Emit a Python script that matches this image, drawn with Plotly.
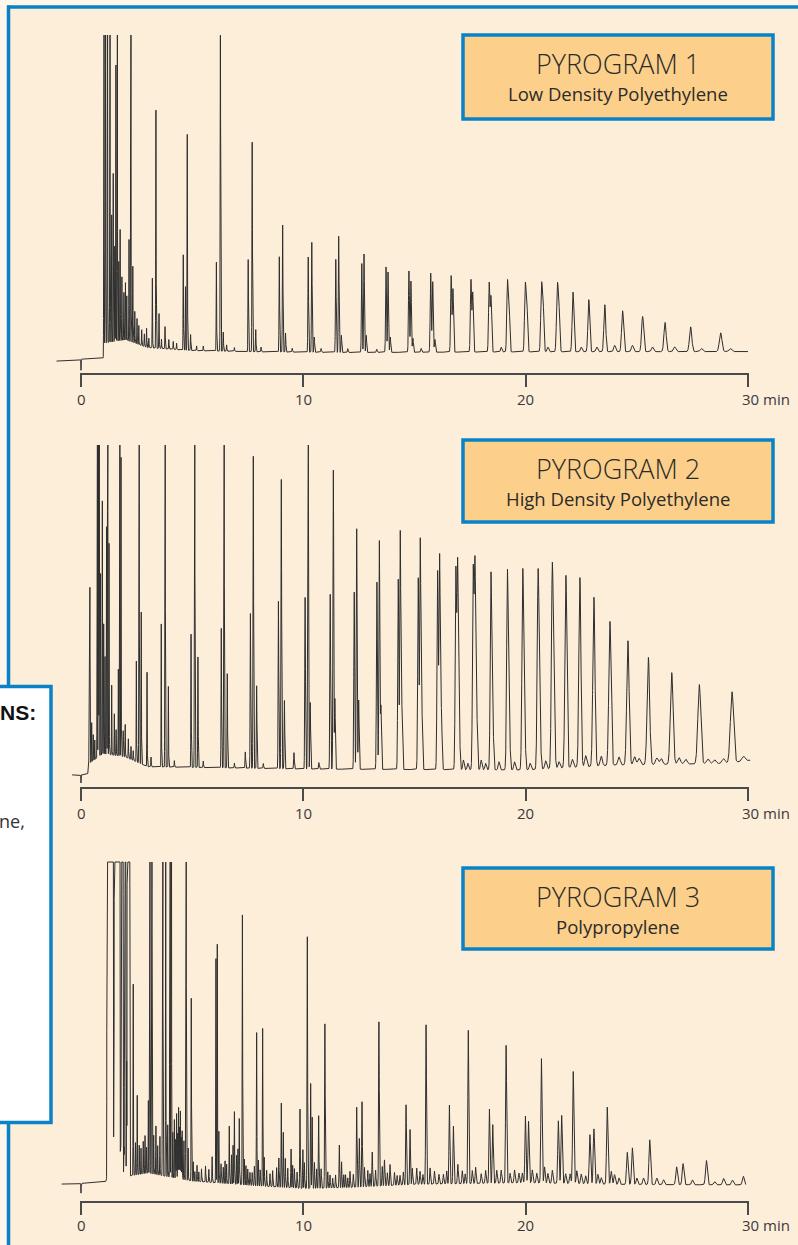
import numpy as np
import plotly.graph_objects as go

W, H = 798, 1245

# ---------------- data: peak tables (retention time in min, height in % of full scale) ----------------
# Pyrogram 1 - Low Density Polyethylene
LDPE_T = [1.03, 1.10, 1.19, 1.30, 1.38, 1.45, 1.52, 1.57, 1.63, 1.70, 1.76, 1.84, 1.93, 2.00, 2.06, 2.16,
          2.24, 2.33, 2.42, 2.52, 2.60, 2.73, 2.85, 2.95, 3.05, 3.21, 3.37, 3.51, 3.62, 3.78, 3.95, 4.15,
          4.30, 4.60, 4.70, 4.78, 4.93, 5.20, 5.50, 6.09, 6.27, 6.40, 6.55, 6.90, 7.52, 7.70, 7.86, 8.10,
          8.92, 9.07, 9.20, 9.50, 10.22, 10.38, 10.49, 10.80, 11.46, 11.59, 11.71, 12.00, 12.63, 12.73,
          12.83, 13.30, 13.72, 13.81, 13.91, 14.75, 14.84, 14.93, 15.30, 15.73, 15.82, 15.92, 16.65, 16.73,
          17.54, 17.62, 18.36, 18.44, 18.90, 19.18, 19.25, 19.98, 20.05, 20.71, 20.78, 21.00, 21.42, 21.49,
          22.13, 22.50, 22.84, 23.20, 23.56, 24.00, 24.36, 24.80, 25.26, 25.70, 26.27, 26.70, 27.42, 27.90,
          28.77, 29.20]
LDPE_H = [140, 180, 150, 130, 40, 53, 30, 87, 150, 25, 35, 20, 15, 18, 14, 32,
          160, 24, 10, 8, 6, 5, 4, 6, 3, 22, 75, 11, 3, 7, 3, 2.5,
          2, 30, 20, 68, 5, 1.5, 1.5, 28, 99.5, 6, 2, 1.2, 29, 66, 7, 1.5,
          30, 40, 6, 1.2, 30, 34.6, 4.8, 1.2, 29.3, 36.6, 5.4, 1.2, 28, 31,
          5.4, 1.0, 26.9, 25.3, 4.8, 25.6, 22.4, 4.4, 1.2, 24.9, 22.2, 4.0, 24, 19.9,
          22.7, 18.7, 21.7, 17.4, 1.5, 21.4, 17.4, 20.1, 16.2, 19.6, 15.9, 1.5, 19.0, 14.8,
          18.8, 1.5, 16.4, 1.5, 14.8, 2.0, 12.9, 2.0, 11.1, 1.5, 9.2, 1.5, 7.8, 1.0,
          5.9, 1.0]
LDPE_BASE_T = [-1.1, 0.0, 1.00, 1.06, 2.0, 3.0, 5.0, 8.0, 12.0, 20.0, 30.0]
LDPE_BASE_V = [-2.7, -2.1, -1.8, 3.0, 4.0, 1.5, 0.6, 0.2, 0.0, 0.2, 0.3]
LDPE_INJECT = -3.5

# Pyrogram 2 - High Density Polyethylene
HDPE_T = [0.37, 0.40, 0.48, 0.55, 0.62, 0.73, 0.78, 0.82, 0.88, 0.96, 1.02, 1.08, 1.15, 1.20, 1.26, 1.38,
          1.50, 1.58, 1.68, 1.74, 1.80, 1.90, 1.99, 2.13, 2.25, 2.35, 2.49, 2.61, 2.71, 2.97, 3.15,
          3.61, 3.78, 3.93, 4.20, 4.95, 5.11, 5.26, 5.50, 6.31, 6.43, 6.58, 6.90, 7.39, 7.62, 7.75, 7.90,
          8.20, 8.88, 9.01, 9.15, 9.58, 10.08, 10.21, 10.31, 10.70, 11.21, 11.35, 11.42, 12.29, 12.40,
          12.49, 13.31, 13.42, 13.49, 14.27, 14.36, 14.43, 15.17, 15.26, 15.33, 16.04, 16.13, 16.21,
          16.86, 16.94, 17.01, 17.20, 17.40, 17.64, 17.72, 17.80, 18.00, 18.20, 18.44, 18.52,
          18.80, 19.18, 19.26, 19.50, 19.87, 19.95, 20.20, 20.56, 20.64, 20.90,
          21.20, 21.28, 21.50, 21.81, 22.10, 22.44, 22.70, 23.07, 23.40, 23.79,
          24.20, 24.60, 24.90, 25.10, 25.52, 25.90, 26.10, 26.57, 26.90, 27.20, 27.81, 28.20, 28.50,
          28.90, 29.28, 29.80]
HDPE_H = [30, 54, 12, 8, 6, 160, 130, 150, 56, 78, 40, 30, 70, 160, 65, 21.5,
          12.8, 8, 26.7, 160, 92, 8, 10, 6, 4, 3, 31, 160, 46.7, 29, 3,
          44, 160, 24.8, 2, 41, 160, 34, 2, 42.9, 160, 29, 1.5, 5, 47.6, 96, 25.4,
          1.5, 51.5, 89, 21, 5, 52.8, 160, 20.5, 2, 53.8, 92, 21.7, 54.5, 74,
          21.3, 57.6, 70.3, 19.5, 58.5, 73.3, 19.5, 58.9, 70.8, 19, 61, 66, 18,
          61, 63, 17, 3, 2, 60.5, 62.9, 17, 3, 2, 60, 16,
          2.5, 60.5, 15, 2.5, 60.5, 14, 2, 60, 13, 2.5,
          61.5, 12, 2, 59.2, 2.5, 58.3, 3.4, 52, 3, 44.3,
          2.5, 38.2, 2.5, 2, 33, 2, 1.8, 28.2, 2, 1.5, 24.4, 1.5, 1.2,
          1.5, 21.8, 1.5]
HDPE_BASE_T = [-0.40, 0.0, 0.30, 0.36, 1.0, 2.0, 3.0, 5.0, 10.0, 20.0, 24.0, 29.0, 30.1]
HDPE_BASE_V = [-1.5, -1.5, -1.3, 2.0, 5.0, 4.0, 1.0, 0.8, 0.3, 0.0, 1.5, 2.0, 3.0]
HDPE_INJECT = -2.5

# Pyrogram 3 - Polypropylene (1000 = far off scale, recorder pen pinned)
PP_T = [1.18, 1.21, 1.24, 1.27, 1.30, 1.33, 1.36, 1.39, 1.42, 1.44, 1.475,
        1.51, 1.54, 1.57, 1.60, 1.63, 1.66, 1.69, 1.72, 1.74, 1.78, 1.82, 1.85, 1.88, 1.93,
        1.97, 2.00, 2.05, 2.09, 2.12, 2.15, 2.18,
        2.35, 2.45, 2.53, 2.62, 2.70, 2.80, 2.88, 2.95, 3.03, 3.09, 3.18, 3.27, 3.37, 3.45, 3.55,
        3.67, 3.81, 3.90, 4.00, 4.06, 4.13, 4.20, 4.26, 4.30, 4.35, 4.39, 4.43, 4.47, 4.51, 4.55, 4.63,
        4.72, 4.82, 4.96, 5.05, 5.12, 5.22, 5.30, 5.42, 5.60, 5.75, 5.90, 6.07, 6.13, 6.20, 6.30, 6.40,
        6.48, 6.55, 6.67, 6.77, 6.84, 6.90, 7.00, 7.06, 7.12, 7.26, 7.35, 7.42, 7.50, 7.60, 7.70, 7.80,
        7.90, 7.98, 8.06, 8.17, 8.24, 8.35, 8.50, 8.62, 8.80, 8.90, 9.01, 9.10, 9.19, 9.30, 9.45, 9.52,
        9.60, 9.72, 9.85, 9.98, 10.05, 10.18, 10.33, 10.40, 10.50, 10.60, 10.69, 10.80, 10.97, 11.10,
        11.20, 11.32, 11.45, 11.62, 11.72, 11.82, 11.90, 12.00, 12.10, 12.25, 12.40, 12.52, 12.64,
        12.75, 12.90, 13.00, 13.10, 13.25, 13.40, 13.55, 13.65, 13.78, 13.90, 14.10, 14.22, 14.35,
        14.50, 14.62, 14.80, 14.90, 15.10, 15.25, 15.38, 15.52, 15.70, 15.90, 16.10, 16.30, 16.45,
        16.57, 16.75, 16.95, 17.15, 17.28, 17.42, 17.60, 17.75, 18.00, 18.20, 18.37, 18.52, 18.70,
        18.90, 19.12, 19.30, 19.50, 19.70, 19.85, 19.99, 20.13, 20.30, 20.50, 20.71, 20.85, 21.00,
        21.20, 21.47, 21.62, 21.80, 22.00, 22.14, 22.30, 22.50, 22.70, 22.89, 23.07, 23.25, 23.40,
        23.67, 23.85, 24.00, 24.20, 24.57, 24.80, 25.00, 25.30, 25.58, 25.90, 26.20, 26.79, 27.08,
        27.50, 28.13, 28.50, 28.90, 29.30, 29.79]
PP_H = [1000, 1000, 1000, 1000, 1000, 1000, 1000, 1000, 1000, 1000, 15,
        1000, 1000, 1000, 1000, 1000, 1000, 1000, 1000, 1000, 16, 1000, 1000, 1000, 12,
        1000, 1000, 40, 1000, 1000, 1000, 1000,
        59, 10, 24.5, 9, 8, 10, 11.7, 8, 22.4, 300, 300, 12, 15, 9, 12,
        300, 97, 16, 300, 300, 14, 18, 12, 20, 14, 22, 16, 21, 13, 15, 12,
        300, 10, 56.4, 6, 3, 5, 3, 4, 5, 4, 8, 69.2, 73.7, 16, 6, 5,
        7, 6, 17.8, 9, 12, 22.4, 9, 11, 20.4, 83.3, 8, 6, 5, 4, 4, 6,
        47.3, 8, 5, 48.7, 9, 5, 4, 5, 6, 9, 26, 17, 9, 6, 12, 7,
        6, 5, 24.5, 12, 8, 77.7, 32.4, 22, 8, 6, 22.4, 6, 50.7, 5,
        4, 3, 4, 13.2, 8, 4, 4, 3, 5, 4, 24.7, 15, 26.3,
        6, 5, 4, 10.6, 5, 50.7, 6, 8, 4, 6.5, 4, 3, 3,
        4, 24.7, 17, 5, 5, 4, 3, 49.2, 5, 4, 3, 3, 4,
        24.3, 17.8, 6, 4, 3, 47.3, 4, 5, 3, 4, 22.9, 18.1, 4,
        4, 42.5, 3, 4, 3, 3, 20.6, 19, 4, 3, 38.4, 5, 3,
        4, 19.3, 21, 3, 3, 34.6, 4, 3, 2.5, 15.2, 17, 3, 2,
        23.8, 4, 3, 2, 9.9, 11.3, 2, 2, 13.8, 2, 1.5, 5.5, 6.5,
        1.5, 7.5, 1, 2, 1.5, 2.7]
PP_BASE_T = [-0.87, 0.0, 1.10, 1.16, 3.0, 5.0, 8.0, 10.0, 12.0, 15.0, 20.0, 24.0, 29.9]
PP_BASE_V = [0.6, 0.8, 1.3, 2.0, 4.0, 1.5, 0.0, -0.8, -0.5, 0.5, 1.0, 0.5, 0.3]
PP_INJECT = -3.0

PANEL_TITLES = ["PYROGRAM 1", "PYROGRAM 2", "PYROGRAM 3"]
PANEL_SUBTITLES = ["Low Density Polyethylene", "High Density Polyethylene", "Polypropylene"]
TICK_VALUES = [0, 10, 20, 30]
TICK_LABELS = ["0", "10", "20", "30"]
TIME_UNIT = "min"

# ---------------- styling / geometry ----------------
BG = "#FDEEDA"
BLUE = "#0A82C6"
BOX_FILL = "#FCD08A"
INK = "#2E2E2E"
AXIS_INK = "#4A4A4A"
FONT = "Open Sans"

T_RANGE = (-1.3, 30.4)
PX_T0, PX_T30 = 81.0, 748.0
PPM = (PX_T30 - PX_T0) / 30.0


def tpx(t):
    return PX_T0 + t * PPM


X_DOMAIN = [tpx(T_RANGE[0]) / W, tpx(T_RANGE[1]) / W]

# per panel: axis line pixel row, baseline pixel row, full-scale pixel row, label row,
# and peak-width model sigma = s0 + s2 * t^2 (min)
PANELS = [
    dict(axis=374.0, base=352.5, full=35.0, label=399.0, box=(461, 33, 775, 121),
         t=LDPE_T, h=LDPE_H, bt=LDPE_BASE_T, bv=LDPE_BASE_V, inj=LDPE_INJECT, s0=0.008, s2=6.0e-5),
    dict(axis=788.0, base=770.0, full=445.0, label=813.0, box=(461, 438, 775, 524),
         t=HDPE_T, h=HDPE_H, bt=HDPE_BASE_T, bv=HDPE_BASE_V, inj=HDPE_INJECT, s0=0.008, s2=7.4e-5),
    dict(axis=1202.0, base=1186.0, full=862.0, label=1225.0, box=(461, 866, 775, 951),
         t=PP_T, h=PP_H, bt=PP_BASE_T, bv=PP_BASE_V, inj=PP_INJECT, s0=0.008, s2=4.2e-5),
]


def chromatogram(p):
    """Detector signal: baseline + Gaussian peaks, with recorder saturation at full scale."""
    grid = np.arange(p["bt"][0], p["bt"][-1], 0.002)
    grid = np.union1d(grid, np.array(p["t"] + [0.0]))
    y = np.interp(grid, p["bt"], p["bv"])
    for tp, hp in zip(p["t"], p["h"]):
        s = p["s0"] + p["s2"] * tp * tp
        y = y + hp * np.exp(-0.5 * ((grid - tp) / s) ** 2)
    y = y + p["inj"] * np.exp(-0.5 * (grid / 0.006) ** 2)
    return grid, np.minimum(y, 100.0)


fig = go.Figure()
shapes, annotations = [], []

for i, p in enumerate(PANELS, start=1):
    ppu = (p["base"] - p["full"]) / 100.0
    top_px = p["full"] - 1.5
    y_range = [-(p["axis"] - p["base"]) / ppu, (p["base"] - top_px) / ppu]
    y_dom = [1 - p["axis"] / H, 1 - top_px / H]
    xa, ya = ("x", "y") if i == 1 else (f"x{i}", f"y{i}")

    tx, ty = chromatogram(p)
    fig.add_trace(go.Scatter(x=tx, y=ty, mode="lines", xaxis=xa, yaxis=ya,
                             line=dict(color=INK, width=1), hoverinfo="skip", showlegend=False))

    xkey = "xaxis" if i == 1 else f"xaxis{i}"
    ykey = "yaxis" if i == 1 else f"yaxis{i}"
    fig.layout[xkey] = dict(domain=X_DOMAIN, range=list(T_RANGE), anchor=ya, showgrid=False,
                            zeroline=False, showline=False, ticks="outside", ticklen=12,
                            tickwidth=2, tickcolor=AXIS_INK, tickvals=TICK_VALUES,
                            showticklabels=False, fixedrange=True)
    fig.layout[ykey] = dict(domain=y_dom, range=y_range, anchor=xa, visible=False, fixedrange=True)

    # time axis line from 0 to 30 min
    ay = 1 - p["axis"] / H
    shapes.append(dict(type="line", xref="paper", yref="paper", x0=tpx(0) / W - 1 / W, x1=tpx(30) / W + 1 / W,
                       y0=ay, y1=ay, line=dict(color=AXIS_INK, width=2)))
    for v, lab in zip(TICK_VALUES, TICK_LABELS):
        last = v == TICK_VALUES[-1]
        annotations.append(dict(xref="paper", yref="paper", x=tpx(v) / W, y=1 - p["label"] / H,
                                text=lab + (" " + TIME_UNIT if last else ""), showarrow=False,
                                xanchor="left" if last else "center", yanchor="middle",
                                xshift=-8 if last else 0,
                                font=dict(family=FONT, size=15, color="#3A3A3A")))

    # title box
    x0, y0, x1, y1 = p["box"]
    shapes.append(dict(type="rect", xref="paper", yref="paper", x0=(x0 + 2) / W, x1=(x1 - 2) / W,
                       y0=1 - (y1 - 2) / H, y1=1 - (y0 + 2) / H, fillcolor=BOX_FILL,
                       line=dict(color=BLUE, width=3.5), layer="above"))
    cx = (x0 + x1) / 2 / W
    annotations.append(dict(xref="paper", yref="paper", x=cx, y=1 - (y0 + 30) / H,
                            text=PANEL_TITLES[i - 1], showarrow=False, xanchor="center", yanchor="middle",
                            font=dict(family=FONT, size=27, color="#2B2B2B", weight=300)))
    annotations.append(dict(xref="paper", yref="paper", x=cx, y=1 - (y0 + 60.5) / H,
                            text=PANEL_SUBTITLES[i - 1], showarrow=False, xanchor="center", yanchor="middle",
                            font=dict(family=FONT, size=18.5, color="#2B2B2B", weight=400)))

# page frame: blue rule along top and left edge
shapes.append(dict(type="rect", xref="paper", yref="paper", x0=0, x1=1, y0=1 - 5.5 / H, y1=1,
                   fillcolor="#FFF6EC", line=dict(width=0), layer="below"))
shapes.append(dict(type="rect", xref="paper", yref="paper", x0=0, x1=7 / W, y0=0, y1=1,
                   fillcolor="#FFF6EC", line=dict(width=0), layer="below"))
shapes.append(dict(type="line", xref="paper", yref="paper", x0=7 / W, x1=1, y0=1 - 7 / H, y1=1 - 7 / H,
                   line=dict(color=BLUE, width=3.5)))
shapes.append(dict(type="line", xref="paper", yref="paper", x0=8.5 / W, x1=8.5 / W, y0=0, y1=1 - 5.5 / H,
                   line=dict(color=BLUE, width=3.5)))

# neighbouring sidebar panel at the left edge
shapes.append(dict(type="rect", xref="paper", yref="paper", x0=-5 / W, x1=51 / W,
                   y0=1 - 1122.5 / H, y1=1 - 686.5 / H, fillcolor="#FFFFFF",
                   line=dict(color=BLUE, width=3.5), layer="above"))
annotations.append(dict(xref="paper", yref="paper", x=38 / W, y=1 - 712 / H, text="<b>NS:</b>",
                        showarrow=False, xanchor="right", yanchor="middle",
                        font=dict(family="Liberation Sans", size=21, color="#111111")))
annotations.append(dict(xref="paper", yref="paper", x=27 / W, y=1 - 821 / H, text="ne,",
                        showarrow=False, xanchor="right", yanchor="middle",
                        font=dict(family=FONT, size=18, color="#333333")))

fig.update_layout(width=W, height=H, margin=dict(l=0, r=0, t=0, b=0),
                  paper_bgcolor=BG, plot_bgcolor="rgba(0,0,0,0)",
                  shapes=shapes, annotations=annotations, showlegend=False)

fig.write_html("out.html", config={"displayModeBar": False})
